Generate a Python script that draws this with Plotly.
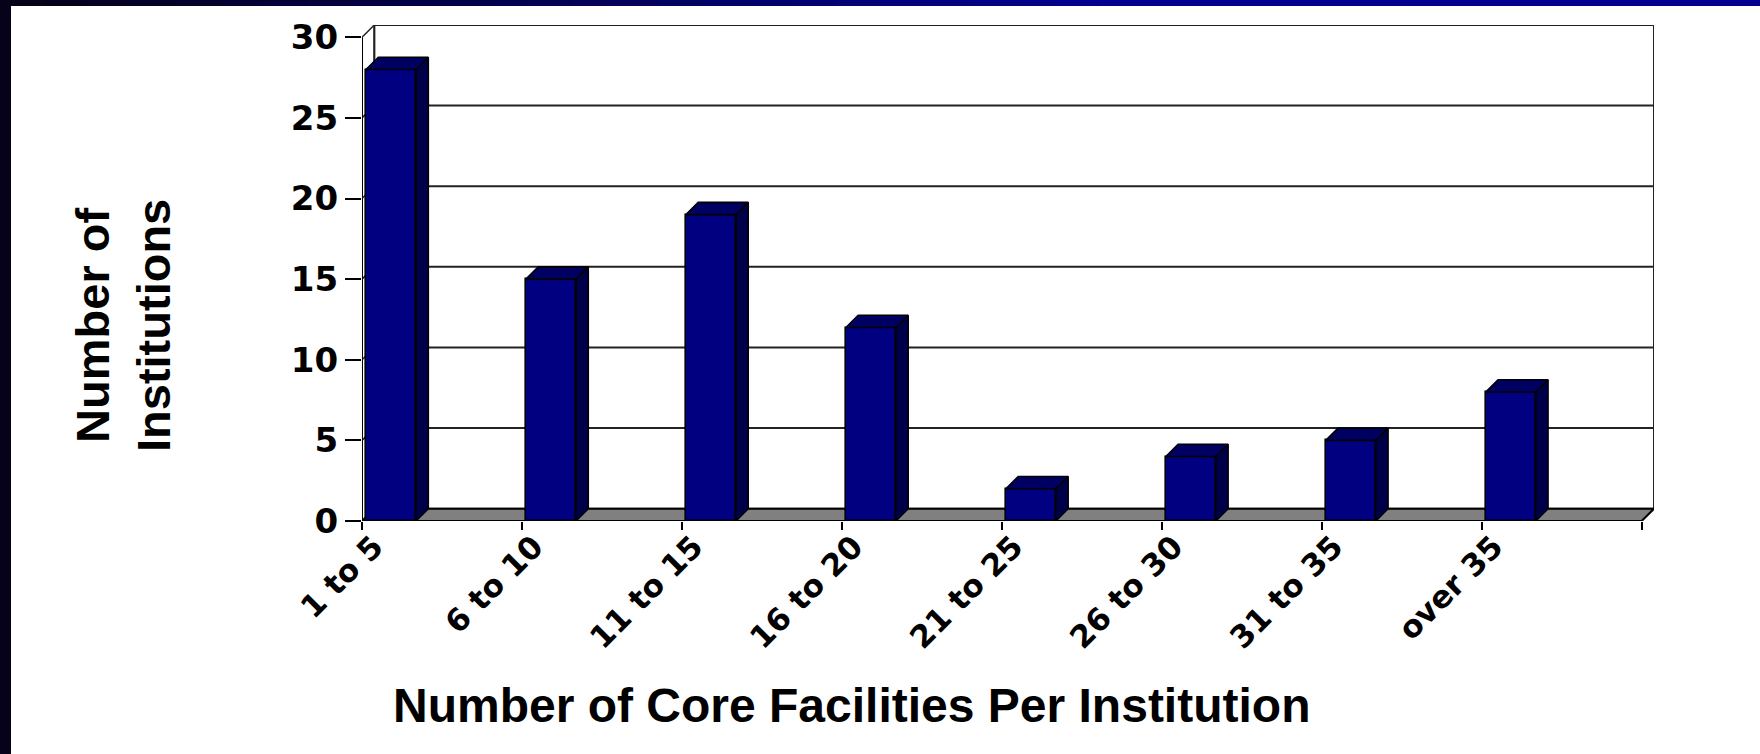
import plotly.graph_objects as go

# ---- data ----
categories = ["1 to 5", "6 to 10", "11 to 15", "16 to 20", "21 to 25", "26 to 30", "31 to 35", "over 35"]
institutions = [28, 15, 19, 12, 2, 4, 5, 8]
y_ticks = [0, 5, 10, 15, 20, 25, 30]

x_title = "Number of Core Facilities Per Institution"
y_title = "Number of<br>Institutions"

# ---- 3D look parameters (in data units) ----
N = len(categories)
YMAX = y_ticks[-1]
DX = 0.077     # depth offset, x units
DY = 0.76      # depth offset, y units
BAR_OFF = 0.025
BAR_W = 0.3125

FRONT = "#000080"
SIDE = "#00004a"
TOP = "#000062"
FLOOR = "#808080"

# plot area in pixels
W, H = 1760, 754
L, R, T, B = 362, 106, 25, 233
PW = W - L - R
PH = H - T - B

def px_x(p):  # pixel -> paper x
    return (p - L) / PW

def px_y(p):  # pixel -> paper y
    return (H - B - p) / PH

fig = go.Figure()

# front faces of bars
fig.add_trace(go.Bar(
    x=list(range(N)), y=institutions, offset=BAR_OFF, width=BAR_W,
    marker=dict(color=FRONT, line=dict(color="black", width=1.6)),
    hoverinfo="skip", showlegend=False,
))

# side faces and top faces
sx, sy, tx, ty = [], [], [], []
for i, v in enumerate(institutions):
    x0 = i + BAR_OFF
    x1 = x0 + BAR_W
    sx += [x1, x1 + DX, x1 + DX, x1, x1, None]
    sy += [0, DY, v + DY, v, 0, None]
    tx += [x0, x0 + DX, x1 + DX, x1, x0, None]
    ty += [v, v + DY, v + DY, v, v, None]
fig.add_trace(go.Scatter(x=sx, y=sy, mode="lines", fill="toself", fillcolor=SIDE,
                         line=dict(color="black", width=1.6), hoverinfo="skip", showlegend=False))
fig.add_trace(go.Scatter(x=tx, y=ty, mode="lines", fill="toself", fillcolor=TOP,
                         line=dict(color="black", width=1.6), hoverinfo="skip", showlegend=False))

shapes = []
# back wall
shapes.append(dict(type="rect", xref="x", yref="y", x0=DX, y0=DY, x1=N + DX, y1=YMAX + DY,
                   fillcolor="white", line=dict(color="#222", width=2), layer="below"))
# back wall gridlines + side-wall diagonals
for t in y_ticks[1:-1]:
    shapes.append(dict(type="line", xref="x", yref="y", x0=DX, y0=t + DY, x1=N + DX, y1=t + DY,
                       line=dict(color="#222", width=2), layer="below"))
for t in y_ticks[1:]:
    shapes.append(dict(type="line", xref="x", yref="y", x0=0, y0=t, x1=DX, y1=t + DY,
                       line=dict(color="#222", width=1.5), layer="below"))
# floor
shapes.append(dict(type="path", xref="x", yref="y",
                   path=f"M 0 0 L {N} 0 L {N + DX} {DY} L {DX} {DY} Z",
                   fillcolor=FLOOR, line=dict(color="black", width=2), layer="below"))
# left wall edge (y axis line)
shapes.append(dict(type="line", xref="x", yref="y", x0=0, y0=0, x1=0, y1=YMAX,
                   line=dict(color="black", width=2), layer="below"))
shapes.append(dict(type="line", xref="x", yref="y", x0=DX, y0=DY, x1=DX, y1=YMAX + DY,
                   line=dict(color="#222", width=1.5), layer="below"))

# slide frame: dark left strip and gradient top strip
shapes.append(dict(type="rect", xref="paper", yref="paper", x0=px_x(0), x1=px_x(11),
                   y0=px_y(754), y1=px_y(0), fillcolor="#05021a", line=dict(width=0), layer="above"))
# keep right margin clean white
shapes.append(dict(type="rect", xref="paper", yref="paper", x0=px_x(1730), x1=px_x(1760),
                   y0=px_y(754), y1=px_y(6), fillcolor="white", line=dict(width=0), layer="above"))
nseg = 40
for k in range(nseg):
    a = k / (nseg - 1)
    r = int(5 * (1 - a))
    g = int(2 * (1 - a))
    bcol = int(26 + (144 - 26) * min(1.0, a * 1.6))
    shapes.append(dict(type="rect", xref="paper", yref="paper",
                       x0=px_x(W * k / nseg), x1=px_x(min(W, W * (k + 1) / nseg + 1)),
                       y0=px_y(6), y1=px_y(0),
                       fillcolor=f"rgb({r},{g},{bcol})", line=dict(width=0), layer="above"))

annotations = [
    dict(text=x_title, xref="paper", yref="paper", x=px_x(851), y=px_y(705),
         xanchor="center", yanchor="middle", showarrow=False,
         font=dict(family="Liberation Sans Narrow, Liberation Sans, Arial", size=48, color="black", weight="bold")),
    dict(text=y_title, xref="paper", yref="paper", x=px_x(123), y=px_y(326),
         xanchor="center", yanchor="middle", showarrow=False, textangle=-90,
         font=dict(family="Liberation Sans, Arial", size=47, color="black", weight="bold")),
]

fig.update_layout(
    width=W, height=H,
    margin=dict(l=L, r=R, t=T, b=B),
    paper_bgcolor="white", plot_bgcolor="white",
    shapes=shapes, annotations=annotations,
    showlegend=False, bargap=0,
    xaxis=dict(range=[0, N + DX], tickmode="array", tickvals=list(range(N + 1)),
               ticktext=categories + [""], tickangle=-45, ticks="outside", ticklen=8,
               tickwidth=2, tickcolor="black", showgrid=False, zeroline=False, showline=False,
               tickfont=dict(family="DejaVu Sans", size=31, color="black", weight="bold"),
               ticklabelshift=12, ticklabelstandoff=-14,
               fixedrange=True),
    yaxis=dict(range=[0, YMAX + DY], tickmode="array", tickvals=y_ticks,
               ticks="outside", ticklen=16, tickwidth=2, tickcolor="black",
               showgrid=False, zeroline=False, showline=False,
               tickfont=dict(family="DejaVu Sans", size=34, color="black", weight="bold"),
               fixedrange=True),
)

fig.write_html(
    "out.html",
    config={"displayModeBar": False},
    post_script=(
        "var s=document.createElement('style');"
        "s.textContent='html,body{margin:0;padding:0;overflow:hidden;background:#fff;}"
        "::-webkit-scrollbar{display:none;width:0;height:0;}';"
        "document.head.appendChild(s);"
    ),
)
